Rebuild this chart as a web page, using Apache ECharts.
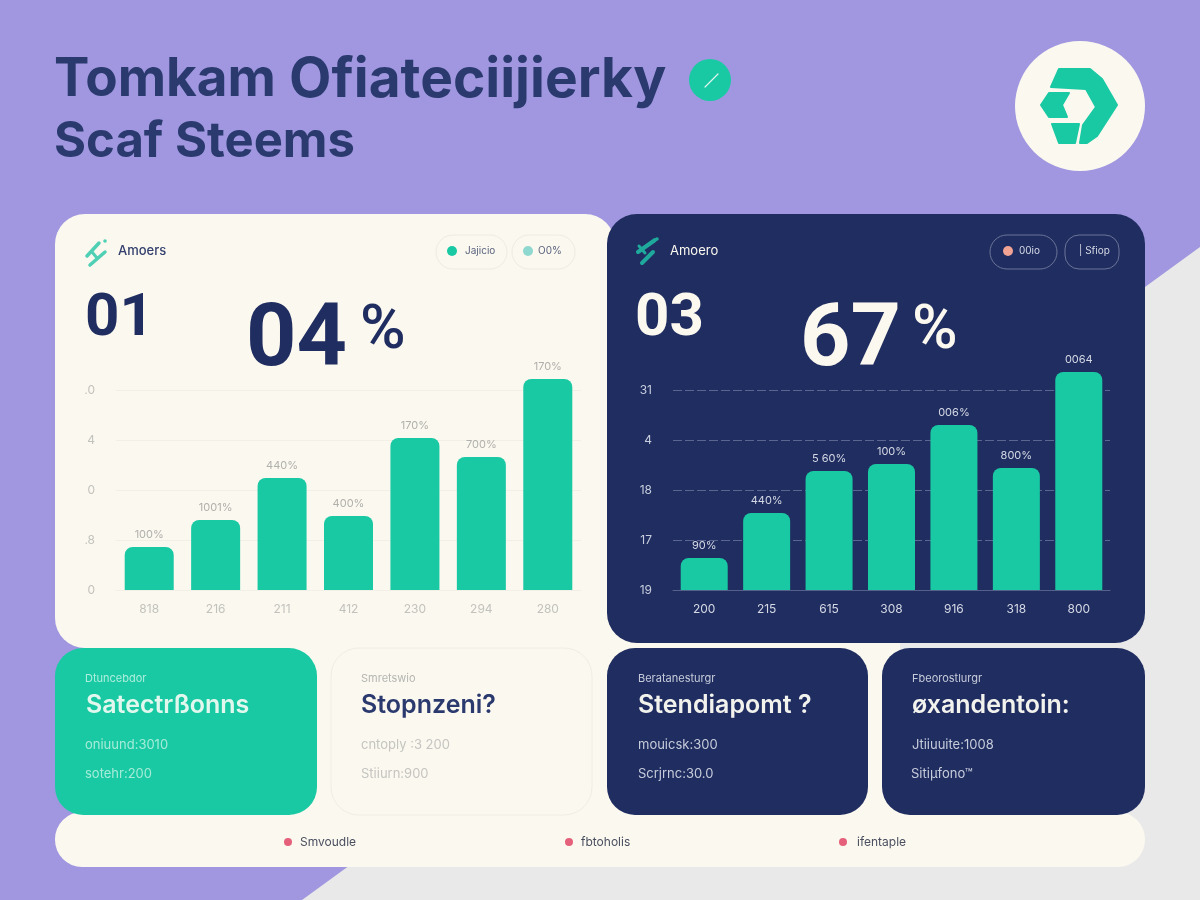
<!DOCTYPE html>
<html>
<head>
    <meta charset="utf-8">
    <title>Tomkam</title>
    <script src="https://cdn.jsdelivr.net/npm/echarts@6/dist/echarts.min.js"></script>
    <style>
        html, body { margin: 0; padding: 0; background: #a097e0; }
    </style>
</head>
<body>
<div id="main" style="width: 1200px;height:900px;"></div>

<script type="text/javascript">
    // left chart
    var leftCategories = ['818', '216', '211', '412', '230', '294', '280'];
    var leftValues = [0.86, 1.4, 2.24, 1.48, 3.04, 2.66, 4.22];
    var leftValueLabels = ['100%', '1001%', '440%', '400%', '170%', '700%', '170%'];
    var leftTicks = ['0', '.8', '0', '4', '.0'];

    // right chart
    var rightCategories = ['200', '215', '615', '308', '916', '318', '800'];
    var rightValues = [0.64, 1.54, 2.38, 2.52, 3.3, 2.44, 4.36];
    var rightValueLabels = ['90%', '440%', '5 60%', '100%', '006%', '800%', '0064'];
    var rightTicks = ['19', '17', '18', '4', '31'];

    var NAVY = '#202d60', TEAL = '#19c9a3', CREAM = '#fbf8ef', PURPLE = '#a097e0', FONT = 'Inter';

    function rect(x, y, w, h, r, fill, stroke) {
        return {
            type: 'rect', z: -10, silent: true,
            shape: { x: x, y: y, width: w, height: h, r: r },
            style: { fill: fill, stroke: stroke || null, lineWidth: stroke ? 1 : 0 }
        };
    }
    function poly(points, fill, z) {
        return {
            type: 'polygon', z: z || -8, silent: true, shape: { points: points },
            style: { fill: fill, stroke: z ? null : fill, lineWidth: z ? 0 : 2, lineJoin: 'round' }
        };
    }
    function circle(cx, cy, r, fill) {
        return { type: 'circle', z: -8, silent: true, shape: { cx: cx, cy: cy, r: r }, style: { fill: fill } };
    }
    function stroke(x1, y1, x2, y2, color, w) {
        return {
            type: 'line', z: -8, silent: true,
            shape: { x1: x1, y1: y1, x2: x2, y2: y2 },
            style: { stroke: color, lineWidth: w, lineCap: 'round' }
        };
    }
    function label(x, y, str, size, weight, color, family) {
        return {
            type: 'text', z: 10, silent: true, x: x, y: y,
            style: { text: str, fontFamily: family || FONT, fontSize: size, fontWeight: weight, fill: color, verticalAlign: 'middle' }
        };
    }

    var graphics = [
        // background and panels
        poly([[302, 900], [1200, 247], [1200, 900]], '#e9e9e9', -20),
        rect(285, 630, 615, 200, 0, CREAM),
        rect(55, 812, 1090, 55, 27, CREAM),
        rect(55, 214, 560, 434, 30, CREAM),
        rect(607, 214, 538, 429, 30, NAVY),
        rect(55, 648, 262, 167, 28, TEAL),
        rect(331, 648, 261, 167, 28, CREAM, '#f0eee4'),
        rect(607, 648, 261, 167, 28, NAVY),
        rect(882, 648, 263, 167, 28, NAVY),

        // title
        label(54, 80, 'Tomkam', 53, 700, '#2b3a6e'),
        label(289, 80, 'Ofiateciijierky', 55, 700, '#2b3a6e'),
        label(54, 142, 'Scaf Steems', 49, 700, '#2b3a6e'),
        circle(710, 80, 21, TEAL),
        stroke(705, 87, 718, 74, '#dff7ef', 1.2),

        // logo
        circle(1080, 106, 65, CREAM),
        poly([[1059, 69], [1090, 69], [1102, 79], [1117, 105], [1097, 136], [1087, 143], [1080, 143], [1083, 125], [1096, 107], [1086, 89], [1051, 87]], TEAL),
        poly([[1041, 105], [1049, 93], [1069, 93], [1062, 105], [1067, 117], [1049, 117]], TEAL),
        poly([[1052, 124], [1079, 124], [1075, 143], [1059, 143]], TEAL),

        // left card header
        stroke(87, 256, 99, 243, '#4fd0b4', 3.5),
        stroke(90, 265, 105, 252, '#4fd0b4', 3.5),
        stroke(92, 252, 97, 258, '#4fd0b4', 3),
        circle(105, 241, 1.8, '#4fd0b4'),
        label(118, 251, 'Amoers', 13, 500, '#33406e'),
        rect(436, 235, 71, 34, 17, CREAM, '#eeece2'),
        rect(512, 235, 63, 34, 17, CREAM, '#eeece2'),
        circle(452, 251, 5, TEAL),
        label(465, 251, 'Jajicio', 10, 400, '#5b6480'),
        circle(528, 251, 5, '#8fd8d0'),
        label(538, 251, 'O0%', 10, 400, '#5b6480'),
        label(85, 320, '01', 60, 700, NAVY, 'Roboto'),
        label(246, 343, '04', 88, 700, NAVY, 'Roboto'),
        label(360, 332, '%', 62, 500, NAVY, 'Roboto'),

        // right card header
        stroke(638, 252, 655, 240, '#1fa99c', 4),
        stroke(642, 263, 653, 252, '#1fa99c', 4),
        stroke(639, 246, 645, 253, '#1fa99c', 3),
        circle(657, 239, 1.8, '#1fa99c'),
        label(670, 251, 'Amoero', 13, 400, CREAM),
        rect(990, 235, 67, 34, 17, NAVY, '#6b7598'),
        rect(1065, 235, 54, 34, 14, NAVY, '#6b7598'),
        circle(1008, 251, 5, '#f2a394'),
        label(1019, 251, '00io', 10, 400, '#d5d9e5'),
        label(1079, 251, '| Sfiop', 10, 400, '#d5d9e5'),
        label(635, 320, '03', 60, 700, CREAM, 'Roboto'),
        label(800, 343, '67', 88, 700, CREAM, 'Roboto'),
        label(912, 332, '%', 62, 500, CREAM, 'Roboto'),

        // bottom cards
        label(85, 679, 'Dtuncebdor', 11, 400, '#aeeedd'),
        label(86, 705, 'Satectrßonns', 25, 600, '#e2f8ee'),
        label(85, 745, 'oniuund:3010', 13, 400, '#a5ecd8'),
        label(85, 774, 'sotehr:200', 13, 400, '#a5ecd8'),

        label(361, 679, 'Smretswio', 11, 400, '#b5b5b2'),
        label(361, 705, 'Stopnzeni?', 25, 600, '#2b3a6e'),
        label(361, 745, 'cntoply :3 200', 13, 400, '#c4c4c0'),
        label(361, 774, 'Stiiurn:900', 13, 400, '#c4c4c0'),

        label(638, 679, 'Beratanesturgr', 11, 400, '#c7ccdb'),
        label(638, 705, 'Stendiapomt ?', 25, 600, '#f3f3ee'),
        label(638, 745, 'mouicsk:300', 13, 400, '#c7ccdb'),
        label(638, 774, 'Scrjrnc:30.0', 13, 400, '#c7ccdb'),

        label(912, 679, 'Fbeorostlurgr', 11, 400, '#c7ccdb'),
        label(912, 705, 'øxandentoin:', 25, 600, '#f3f3ee'),
        label(912, 745, 'Jtiiuuite:1008', 13, 400, '#c7ccdb'),
        label(911, 774, 'Sitiμfono™', 13, 400, '#c7ccdb'),

        // bottom legend strip
        circle(288, 842, 4, '#e5607a'),
        label(300, 842, 'Smvoudle', 12, 400, '#4a4f60'),
        circle(569, 842, 4, '#e5607a'),
        label(581, 842, 'fbtoholis', 12, 400, '#4a4f60'),
        circle(843, 842, 4, '#e5607a'),
        label(857, 842, 'ifentaple', 12, 400, '#4a4f60')
    ];

    function xAxis(idx, names, color, lineColor) {
        return {
            type: 'category', gridIndex: idx, data: names,
            axisTick: { show: false },
            axisLine: { lineStyle: { color: lineColor } },
            axisLabel: { color: color, fontFamily: FONT, fontSize: 12, margin: 13 }
        };
    }
    function yAxis(idx, ticks, color, split, splitType) {
        return {
            type: 'value', gridIndex: idx, min: 0, max: 4.4, interval: 1,
            axisLine: { show: false }, axisTick: { show: false },
            axisLabel: {
                color: color, fontFamily: FONT, fontSize: 12, margin: 21, showMaxLabel: false,
                formatter: function (v) { return ticks[v]; }
            },
            splitLine: { showMaxLine: false, lineStyle: { color: split, type: splitType } }
        };
    }
    function bars(idx, values, labels, color, width) {
        return {
            type: 'bar', xAxisIndex: idx, yAxisIndex: idx, data: values, barWidth: width,
            itemStyle: { color: TEAL, borderRadius: [8, 8, 0, 0] },
            label: {
                show: true, position: 'top', distance: 7, color: color, fontFamily: FONT, fontSize: 11,
                formatter: function (p) { return labels[p.dataIndex]; }
            }
        };
    }

    var myChart = echarts.init(document.getElementById('main'));
    myChart.setOption({
        animation: false,
        backgroundColor: PURPLE,
        grid: [
            { left: 116, top: 370, width: 465, height: 220 },
            { left: 673, top: 370, width: 437, height: 220 }
        ],
        xAxis: [
            xAxis(0, leftCategories, '#c2c2bd', '#f1efe6'),
            xAxis(1, rightCategories, '#d5d9e5', '#55618a')
        ],
        yAxis: [
            yAxis(0, leftTicks, '#c2c2bd', '#f1efe6', 'solid'),
            yAxis(1, rightTicks, '#c9cede', '#5a6690', [9, 3])
        ],
        series: [
            bars(0, leftValues, leftValueLabels, '#b0b0ac', 49),
            bars(1, rightValues, rightValueLabels, '#d5d9e5', 47)
        ],
        graphic: graphics
    });
</script>
</body>
</html>
